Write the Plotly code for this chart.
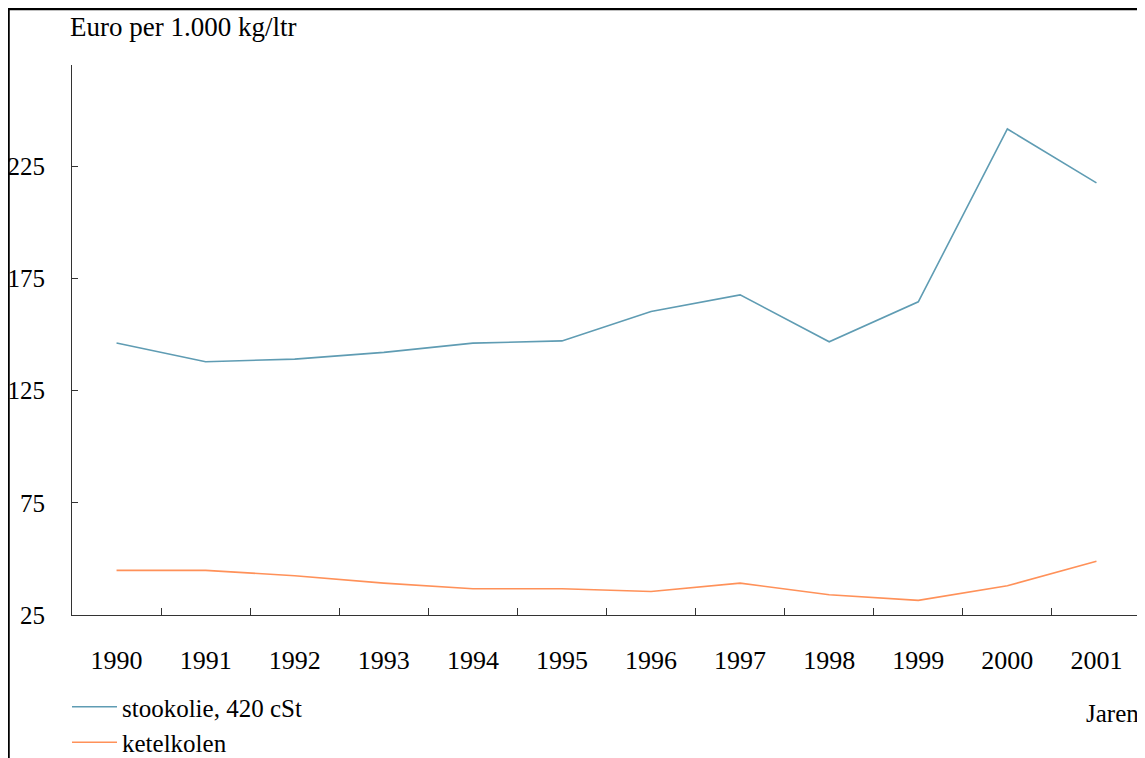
import plotly.graph_objects as go

years = ["1990", "1991", "1992", "1993", "1994", "1995", "1996", "1997", "1998", "1999", "2000", "2001"]
stookolie = [146.2, 137.8, 139.0, 142.0, 146.1, 147.1, 160.2, 167.6, 146.7, 164.5, 241.5, 217.5]
ketelkolen = [44.9, 44.9, 42.5, 39.2, 36.7, 36.7, 35.5, 39.2, 34.0, 31.5, 38.0, 48.9]
y_ticks = [25, 75, 125, 175, 225]

FONT = "Liberation Serif, Times New Roman, serif"
OFF = 8  # page body margin
W, H = 1145 - OFF, 758 - OFF
# target plot area in screen pixels: x 72..1141, y 65..615
L = 72 - OFF
T = 65 - OFF
R = W - (1141 - OFF)
B = H - (615 - OFF)
pw, ph = W - L - R, H - T - B

def px_x(s):
    return (s - OFF - L) / pw

def px_y(s):
    return (H - B - (s - OFF)) / ph

fig = go.Figure()
fig.add_trace(go.Scatter(x=years, y=stookolie, mode="lines", name="stookolie, 420 cSt",
                         line=dict(color="#5f9cb3", width=1.6)))
fig.add_trace(go.Scatter(x=years, y=ketelkolen, mode="lines", name="ketelkolen",
                         line=dict(color="#ff9159", width=1.6)))

fig.update_layout(
    width=W, height=H,
    margin=dict(l=L, r=R, t=T, b=B, pad=0, autoexpand=False),
    paper_bgcolor="white", plot_bgcolor="white",
    font=dict(family=FONT, size=25, color="black"),
    showlegend=True,
    legend=dict(x=px_x(67), y=px_y(684), xanchor="left", yanchor="top",
                orientation="v", font=dict(size=25, family=FONT),
                bgcolor="rgba(0,0,0,0)", tracegroupgap=0, itemwidth=45),
    xaxis=dict(type="category", range=[-0.5, 11.5], showgrid=False, zeroline=False,
               showline=True, linecolor="#333333", linewidth=1.2,
               ticks="inside", tickson="boundaries", ticklen=7, tickcolor="#333333",
               tickwidth=1, ticklabelstandoff=22, tickfont=dict(size=26, family=FONT)),
    yaxis=dict(range=[25, 270], tickvals=y_ticks, ticktext=[str(v) for v in y_ticks],
               showgrid=False, zeroline=False, showline=True, linecolor="#333333",
               linewidth=1.2, ticks="inside", ticklen=6, tickcolor="#333333",
               ticklabelstandoff=21, tickfont=dict(size=25, family=FONT)),
)

fig.add_annotation(text="Euro per 1.000 kg/ltr", xref="paper", yref="paper",
                   x=px_x(68), y=px_y(27), xanchor="left", yanchor="middle",
                   showarrow=False, font=dict(size=27, family=FONT))
fig.add_annotation(text="Jaren", xref="paper", yref="paper",
                   x=px_x(1141), y=px_y(713), xanchor="right", yanchor="middle",
                   showarrow=False, font=dict(size=25, family=FONT))

fig.add_shape(type="rect", xref="paper", yref="paper",
              x0=px_x(8.5), x1=px_x(1139), y0=px_y(790), y1=px_y(9),
              line=dict(color="black", width=2.5), fillcolor="rgba(0,0,0,0)", layer="above")

fig.write_html("out.html")
